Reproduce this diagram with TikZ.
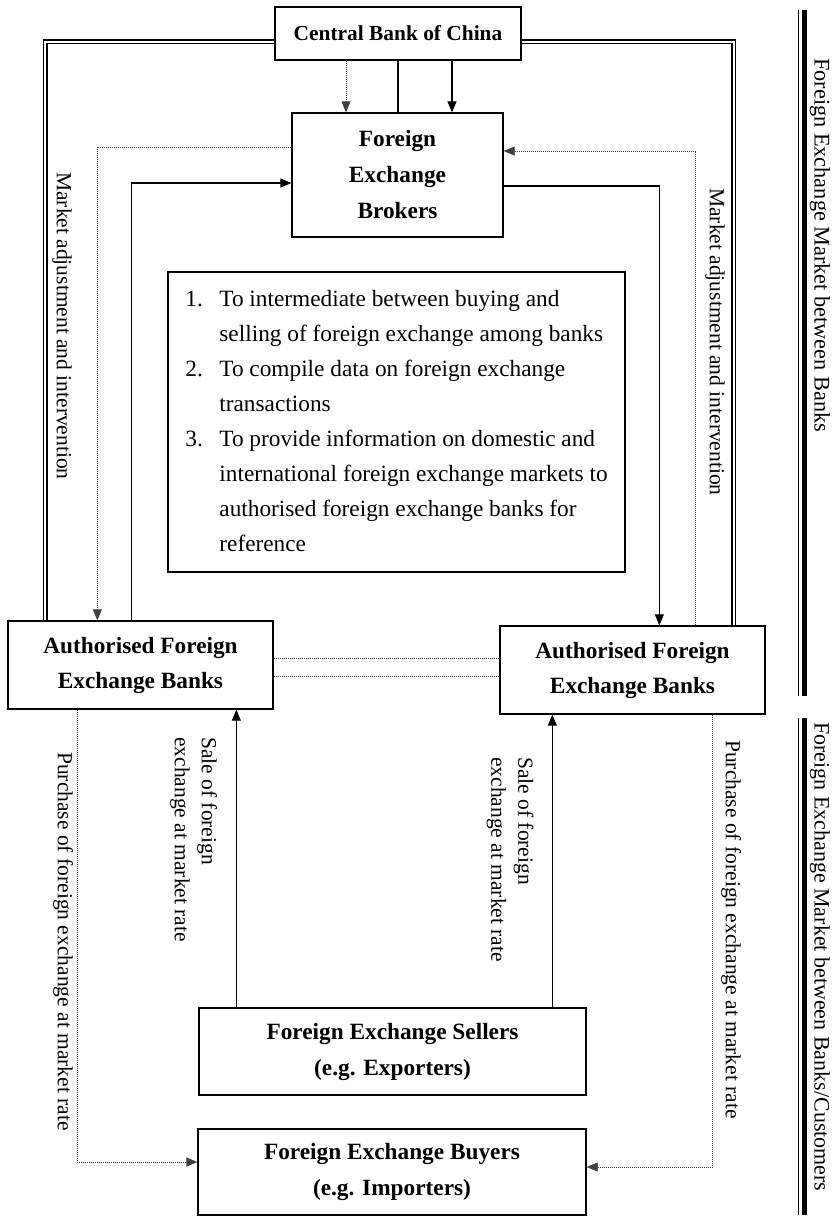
\documentclass[tikz,border=0pt]{standalone}
\usepackage{fontspec}
\setmainfont{Liberation Serif}
\usetikzlibrary{arrows.meta, positioning}

\begin{document}
\begin{tikzpicture}[x=1pt, y=-1pt,
      box/.style={rectangle, draw, line width=1.3pt, inner sep=0pt, align=center,
        font=\fontsize{23.3}{36}\selectfont\bfseries},
      note/.style={rectangle, draw, line width=1.3pt, inner sep=0pt, align=left,
        minimum width=457pt, minimum height=300pt, font=\fontsize{23.3}{35}\selectfont},
      lbl/.style={rotate=-90, anchor=west, inner sep=0pt, align=left,
        font=\fontsize{21.5}{27}\selectfont},
      flow/.style={line width=1.1pt, -{Triangle[length=11pt, width=9pt]}},
      dotflow/.style={line width=0.8pt, black!75, dash pattern=on 1pt off 1pt,
        -{Triangle[length=11pt, width=9pt]}},
      dotline/.style={line width=0.8pt, black!75, dash pattern=on 1pt off 1pt},
      twin/.style={double, double distance=2pt, line width=1.3pt}]

      \useasboundingbox (0,0) rectangle (838,1219);

      \node[box, minimum width=246pt, minimum height=53pt, font=\fontsize{21.4}{30}\selectfont\bfseries]
        (cbc) at (398,33.5) {Central Bank of China};
      \node[box, minimum width=211pt, minimum height=124pt] (feb) at (397.5,175)
        {Foreign\\Exchange\\Brokers};
      \node[note] (info) at (396.5,422) {%
        \begin{tabular}{@{}p{34pt}@{}l@{}}
          1. & To intermediate between buying and\\
             & selling of foreign exchange among banks\\
          2. & To compile data on foreign exchange\\
             & transactions\\
          3. & To provide information on domestic and\\
             & international foreign exchange markets to\\
             & authorised foreign exchange banks for\\
             & reference
        \end{tabular}};
      \node[box, minimum width=265pt, minimum height=88pt, font=\fontsize{23.3}{35}\selectfont\bfseries]
        (afbL) at (140.5,665) {Authorised Foreign\\Exchange Banks};
      \node[box, minimum width=265pt, minimum height=88pt, font=\fontsize{23.3}{35}\selectfont\bfseries]
        (afbR) at (632.5,670) {Authorised Foreign\\Exchange Banks};
      \node[box, minimum width=387pt, minimum height=87pt] (sell) at (392.5,1051.5)
        {Foreign Exchange Sellers\\(e.g. Exporters)};
      \node[box, minimum width=388pt, minimum height=86pt] (buy) at (392,1172)
        {Foreign Exchange Buyers\\(e.g. Importers)};

      % Central bank down to the brokers
      \draw[dotflow] ([xshift=-52pt]cbc.south) -- ([xshift=-52pt]cbc.south |- feb.north);
      \draw[line width=1.1pt] (cbc.south) -- (cbc.south |- feb.north);
      \draw[flow] ([xshift=54pt]cbc.south) -- ([xshift=54pt]cbc.south |- feb.north);

      % Central bank out to the banks
      \draw[twin] ([yshift=-8pt]cbc.west) -| ([xshift=38pt]afbL.north west);
      \draw[twin] ([yshift=-8pt]cbc.east) -| ([xshift=-32pt]afbR.north east);

      % Brokers and banks
      \draw[dotflow] ([yshift=28pt]feb.west) -| ([xshift=90pt]afbL.north west);
      \draw[flow] ([xshift=124pt]afbL.north west) |- ([yshift=-8pt]feb.west);
      \draw[dotflow] ([xshift=-70pt]afbR.north east) |- ([yshift=24pt]feb.east);
      \draw[flow] ([yshift=-11pt]feb.east) -| ([xshift=160pt]afbR.north west);

      % Between the banks
      \draw[dotline] ([yshift=7pt]afbL.east) -- ([yshift=7pt]afbL.east -| afbR.west);
      \draw[dotline] ([yshift=-11pt]afbL.east) -- ([yshift=-11pt]afbL.east -| afbR.west);

      % Customers
      \draw[flow] ([xshift=38pt]sell.north west) -- ([xshift=38pt]sell.north west |- afbL.south);
      \draw[flow] ([xshift=354pt]sell.north west) -- ([xshift=354pt]sell.north west |- afbR.south);
      \draw[dotflow] ([xshift=70pt]afbL.south west) |- ([yshift=10pt]buy.west);
      \draw[dotflow] ([xshift=-53pt]afbR.south east) |- ([yshift=5pt]buy.east);

      % Annotations
      \node[lbl] (madjL) at (62,172) {Market adjustment and intervention};
      \node[lbl] (madjR) at (715,188) {Market adjustment and intervention};
      \node[lbl] (saleL) at (193.5,737) {Sale of foreign\\exchange at market rate};
      \node[lbl] (saleR) at (510,757) {Sale of foreign\\exchange at market rate};
      \node[lbl] (purL) at (63,752) {Purchase of foreign exchange at market rate};
      \node[lbl] (purR) at (731,740) {Purchase of foreign exchange at market rate};

      % Market brackets
      \draw[line width=5pt] (804,10) -- (804,696);
      \draw[line width=1pt] (798,10) -- (798,696);
      \draw[line width=5pt] (804,718) -- (804,1215);
      \draw[line width=1pt] (798,718) -- (798,1215);
      \node[lbl, font=\fontsize{22.3}{27}\selectfont] (mktBanks) at (820,58)
        {Foreign Exchange Market between Banks};
      \node[lbl, font=\fontsize{22}{27}\selectfont] (mktCust) at (820,722)
        {Foreign Exchange Market between Banks/Customers};
    \end{tikzpicture}
\end{document}
